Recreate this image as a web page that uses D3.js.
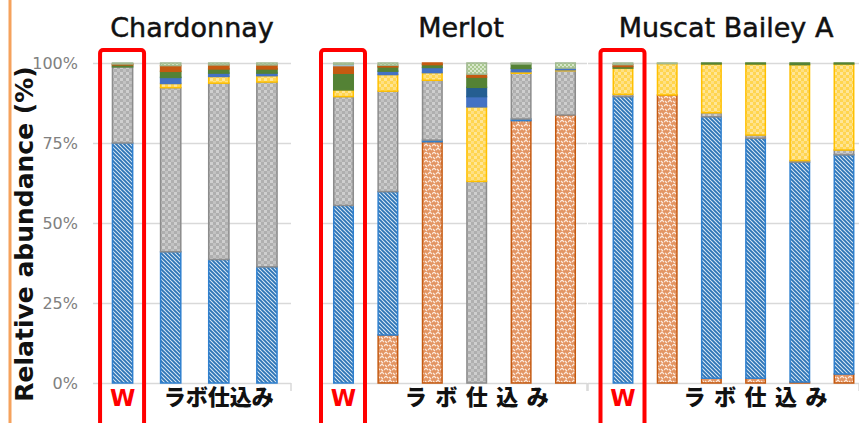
<!DOCTYPE html>
<html>
<head>
<meta charset="utf-8">
<script src="https://cdn.jsdelivr.net/npm/d3@7"></script>
<style>
  html, body { margin: 0; padding: 0; background: #fff; }
  svg { display: block; }
</style>
</head>
<body>
<script>
// stack order, bottom to top
var seriesKeys = ["orangeWeave", "hatchBlue", "greyCheck", "yellow", "blue", "darkBlue", "green", "orange", "lightBlue", "dotGreen"];

var panelTitles = ["Chardonnay", "Merlot", "Muscat Bailey A"];

var chardonnayCats = ["W", "L1", "L2", "L3"];
var merlotCats = ["W", "L1", "L2", "L3", "L4", "L5"];
var muscatCats = ["W", "L1", "L2", "L3", "L4", "L5"];

// relative abundance (%) per bar, in seriesKeys order
var chardonnayValues = [
  [0, 75, 23.8, 0, 0, 0, 0.6, 0.3, 0, 0.3],
  [0, 41, 51.3, 1.3, 1.9, 0, 1.9, 1.8, 0, 0.8],
  [0, 38.6, 55.1, 2.1, 1.05, 0, 1.3, 1.25, 0, 0.6],
  [0, 36.3, 57.75, 2.0, 0.8, 0, 1.3, 1.25, 0, 0.6]
];
var merlotValues = [
  [0, 55.5, 34, 2.1, 0, 0, 5.2, 2.4, 0.3, 0.5],
  [15, 44.8, 31.4, 5.2, 1.05, 0, 1.35, 0.5, 0, 0.7],
  [75.4, 0.5, 18.7, 2.4, 1.6, 0, 0.9, 0.5, 0, 0],
  [0, 0, 63, 23.3, 3.2, 2.9, 3.2, 0.9, 0, 3.5],
  [82, 0.5, 14.3, 0.5, 1, 0, 1.4, 0, 0, 0.3],
  [83.75, 0, 13.85, 0.3, 0.5, 0, 0, 0, 0, 1.6]
];
var muscatValues = [
  [0, 89.5, 0.7, 8.2, 0, 0, 0.5, 0.6, 0, 0.5],
  [90, 0, 0, 9.8, 0, 0, 0, 0, 0, 0.2],
  [1.5, 81.7, 1.25, 15.25, 0, 0, 0.3, 0, 0, 0],
  [1.5, 75, 1, 22.2, 0, 0, 0.3, 0, 0, 0],
  [0.3, 68.7, 0.5, 30, 0, 0, 0.5, 0, 0, 0],
  [2.8, 68.5, 1.5, 26.9, 0, 0, 0.3, 0, 0, 0]
];

var yTicks = [0, 25, 50, 75, 100];
var wLabel = "W";
var labLabel = "ラボ仕込み";

var width = 859, height = 423;

var svg = d3.select("body").append("svg")
    .attr("width", width)
    .attr("height", height);

// fills
var defs = svg.append("defs");

var p = defs.append("pattern").attr("id", "hatchBlue")
    .attr("patternUnits", "userSpaceOnUse").attr("width", 4).attr("height", 4);
p.append("rect").attr("width", 4).attr("height", 4).attr("fill", "#dceaf7");
p.append("path").attr("d", "M-1,-1L5,5M3,-1L5,1M-1,3L1,5")
    .attr("stroke", "#2e75b6").attr("stroke-width", 1.9);

p = defs.append("pattern").attr("id", "orangeWeave")
    .attr("patternUnits", "userSpaceOnUse").attr("width", 8).attr("height", 8);
p.append("rect").attr("width", 8).attr("height", 8).attr("fill", "#e39563");
p.append("path").attr("d", "M0,2L2,0L4,2M4,6L6,4L8,6M1,5L3,7M5,1L7,3")
    .attr("stroke", "#fce9dc").attr("stroke-width", 1.2).attr("fill", "none");

p = defs.append("pattern").attr("id", "greyCheck")
    .attr("patternUnits", "userSpaceOnUse").attr("width", 6).attr("height", 6);
p.append("rect").attr("width", 6).attr("height", 6).attr("fill", "#afafaf");
p.append("rect").attr("width", 3).attr("height", 3).attr("fill", "#cfcfcf");
p.append("rect").attr("x", 3).attr("y", 3).attr("width", 3).attr("height", 3).attr("fill", "#c2c2c2");

p = defs.append("pattern").attr("id", "yellow")
    .attr("patternUnits", "userSpaceOnUse").attr("width", 6).attr("height", 6);
p.append("rect").attr("width", 6).attr("height", 6).attr("fill", "#ffd54f");
p.append("rect").attr("width", 3).attr("height", 3).attr("fill", "#ffe699");
p.append("rect").attr("x", 3).attr("y", 3).attr("width", 3).attr("height", 3).attr("fill", "#ffe083");

p = defs.append("pattern").attr("id", "dotGreen")
    .attr("patternUnits", "userSpaceOnUse").attr("width", 4).attr("height", 4);
p.append("rect").attr("width", 4).attr("height", 4).attr("fill", "#a9c98e");
p.append("circle").attr("cx", 1).attr("cy", 1).attr("r", 0.9).attr("fill", "#eef5e8");
p.append("circle").attr("cx", 3).attr("cy", 3).attr("r", 0.9).attr("fill", "#eef5e8");

var fills = {
  orangeWeave: "url(#orangeWeave)", hatchBlue: "url(#hatchBlue)", greyCheck: "url(#greyCheck)",
  yellow: "url(#yellow)", blue: "#4472c4", darkBlue: "#255e91", green: "#548235",
  orange: "#c55a11", lightBlue: "#9dc3e6", dotGreen: "url(#dotGreen)"
};
var strokes = {
  orangeWeave: "#c55a11", hatchBlue: "#2f80cf", greyCheck: "#8c8c8c",
  yellow: "#ffc000", blue: "#4472c4", darkBlue: "#255e91", green: "#548235",
  orange: "#c55a11", lightBlue: "#9dc3e6", dotGreen: "#a0b890"
};

var y = d3.scaleLinear().domain([0, 100]).range([383, 63]);

// left orange rule
svg.append("line")
    .attr("x1", 10).attr("x2", 10).attr("y1", 0).attr("y2", height)
    .attr("stroke", "#f5a25d").attr("stroke-width", 3);

// y axis title
svg.append("text")
    .attr("transform", "translate(33,234) rotate(-90)")
    .attr("text-anchor", "middle")
    .style("font-family", "DejaVu Sans, sans-serif")
    .style("font-weight", "bold")
    .style("font-size", "25px")
    .attr("fill", "#111")
    .text("Relative abundance (%)");

var panels = [
  { title: panelTitles[0], cats: chardonnayCats, values: chardonnayValues,
    grid: [93, 291], bars: [98.5, 291], pad: 0.58, titleX: 192, labSpacing: 0 },
  { title: panelTitles[1], cats: merlotCats, values: merlotValues,
    grid: [320, 587], bars: [321.3, 587.7], pad: 0.56, titleX: 461, labSpacing: 8.5 },
  { title: panelTitles[2], cats: muscatCats, values: muscatValues,
    grid: [588, 859], bars: [600.9, 866.1], pad: 0.56, titleX: 726, labSpacing: 8.5 }
];

var stack = d3.stack()
    .keys(d3.range(seriesKeys.length))
    .value(function(d, k) { return d[k]; });

panels.forEach(function(pn, pi) {
  var g = svg.append("g");

  // gridlines
  g.append("g")
      .attr("transform", "translate(" + pn.grid[0] + ",0)")
      .call(d3.axisLeft(y).tickValues(yTicks)
          .tickSize(-(pn.grid[1] - pn.grid[0])).tickFormat(""))
      .call(function(a) {
        a.select(".domain").remove();
        a.selectAll(".tick line").attr("stroke", "#d9d9d9").attr("stroke-width", 1.5);
      });

  // end ticks of category axis
  g.selectAll(".edge")
      .data(pi === 0 ? [pn.grid[1]] : pn.grid)
    .enter().append("line")
      .attr("x1", function(d) { return d; }).attr("x2", function(d) { return d; })
      .attr("y1", y(0)).attr("y2", y(0) + 8)
      .attr("stroke", "#d9d9d9").attr("stroke-width", 1.5);

  if (pi === 0) {
    g.selectAll(".ylab")
        .data(yTicks)
      .enter().append("text")
        .attr("x", 78)
        .attr("y", function(d) { return y(d); })
        .attr("dy", "0.36em")
        .attr("text-anchor", "end")
        .style("font-family", "DejaVu Sans, sans-serif")
        .style("font-size", "16px")
        .attr("fill", "#808080")
        .text(function(d) { return d + "%"; });
  }

  var x = d3.scaleBand()
      .domain(pn.cats)
      .range(pn.bars)
      .paddingInner(pn.pad)
      .paddingOuter(pn.pad / 2);

  var layers = stack(pn.values);

  g.selectAll(".layer")
      .data(layers)
    .enter().append("g")
      .attr("fill", function(d) { return fills[seriesKeys[d.key]]; })
      .attr("stroke", function(d) { return strokes[seriesKeys[d.key]]; })
      .attr("stroke-width", 1.5)
    .selectAll("rect")
      .data(function(d) { return d.map(function(v, i) { return { v: v, i: i }; })
          .filter(function(o) { return o.v[1] - o.v[0] > 0; }); })
    .enter().append("rect")
      .attr("x", function(o) { return x(pn.cats[o.i]); })
      .attr("width", x.bandwidth())
      .attr("y", function(o) { return y(o.v[1]); })
      .attr("height", function(o) { return y(o.v[0]) - y(o.v[1]); });

  var cW = x("W") + x.bandwidth() / 2;

  // red box round the W bar
  g.append("rect")
      .attr("x", cW - 22.5).attr("y", 50)
      .attr("width", 44).attr("height", 400)
      .attr("rx", 3)
      .attr("fill", "none")
      .attr("stroke", "#ff0000")
      .attr("stroke-width", 4);

  g.append("text")
      .attr("x", pn.titleX).attr("y", 37)
      .attr("text-anchor", "middle")
      .style("font-family", "DejaVu Sans, sans-serif")
      .style("font-size", "27px")
      .attr("fill", "#111")
      .attr("stroke", "#111")
      .attr("stroke-width", 0.5)
      .text(pn.title);

  g.append("text")
      .attr("x", cW).attr("y", 406)
      .attr("text-anchor", "middle")
      .style("font-family", "DejaVu Sans, sans-serif")
      .style("font-weight", "bold")
      .style("font-size", "23px")
      .attr("fill", "#ff0000")
      .text(wLabel);

  var first = x(pn.cats[1]);
  var last = x(pn.cats[pn.cats.length - 1]) + x.bandwidth();
  g.append("text")
      .attr("x", (first + last) / 2 + pn.labSpacing / 2).attr("y", 405)
      .attr("text-anchor", "middle")
      .style("font-family", "'Noto Sans CJK JP', sans-serif")
      .style("font-weight", "900")
      .style("font-size", "22px")
      .style("letter-spacing", pn.labSpacing + "px")
      .attr("fill", "#111")
      .text(labLabel);
});
</script>
</body>
</html>
